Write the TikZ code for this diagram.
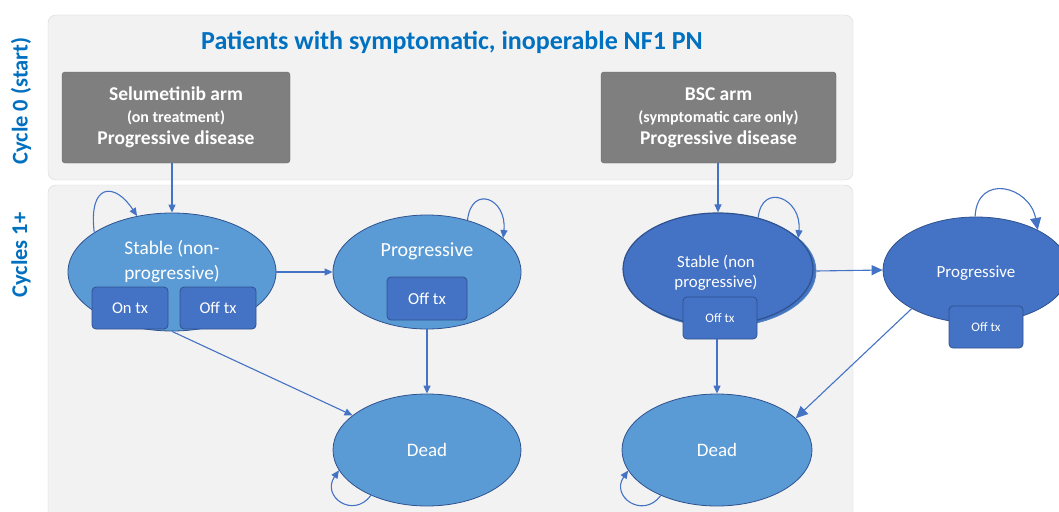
\documentclass[tikz,border=0pt]{standalone}
\usepackage{fontspec}
\setmainfont{Carlito}
\usetikzlibrary{arrows.meta,shapes.geometric}

\definecolor{bluetxt}{HTML}{0070C0}
\definecolor{lightell}{HTML}{5B9BD5}
\definecolor{darkell}{HTML}{4472C4}
\definecolor{ellline}{HTML}{2F528F}
\definecolor{panelfill}{HTML}{F2F2F2}
\definecolor{panelline}{HTML}{DADADA}
\definecolor{armfill}{HTML}{7F7F7F}

\begin{document}
\begin{tikzpicture}[x=1pt,y=-1pt]
        \clip (0,0) rectangle (1059,511);
        \fill[white] (0,0) rectangle (1059,511);

        % panels
        \begin{scope}[every path/.style={fill=panelfill,draw=panelline,rounded corners=8pt}]
            \path (48,15) rectangle (853,180);
            \path (48,185) rectangle (853,530);
        \end{scope}

        \begin{scope}[every node/.style={text=bluetxt,font=\fontsize{22.5}{24}\selectfont\bfseries,rotate=90}]
            \node (C0) at (21,101) {Cycle 0 (start)};
            \node (C1) at (21,255) {Cycles 1+};
        \end{scope}
        \node[text=bluetxt,font=\fontsize{26}{28}\selectfont\bfseries] (T) at (452,42)
            {Patients with symptomatic, inoperable NF1 PN};

        % arms
        \begin{scope}[every node/.style={fill=armfill,draw=armfill!80!black,rounded corners=3pt,
                      text=white,align=center,minimum height=91pt,inner sep=0pt,
                      font=\fontsize{19.5}{22}\selectfont\bfseries}]
            \node[minimum width=228pt] (A) at (176,117.5)
                {Selumetinib arm\\[0pt]{\fontsize{16}{18}\selectfont (on treatment)}\\Progressive disease};
            \node[minimum width=235pt] (B) at (718.5,117.5)
                {BSC arm\\[0pt]{\fontsize{16}{18}\selectfont (symptomatic care only)}\\Progressive disease};
        \end{scope}

        % health states
        \begin{scope}[every node/.style={ellipse,inner sep=0pt,draw=ellline,thick}]
            \node[fill=lightell,minimum width=208pt,minimum height=118pt] (S1) at (172,272) {};
            \node[fill=lightell,minimum width=188pt,minimum height=114pt] (P1) at (427,272) {};
            \node[fill=lightell,minimum width=188pt,minimum height=112pt] (D1) at (427,450) {};
            \node[fill=darkell,draw=lightell!70!ellline,minimum width=190pt,minimum height=112pt] (S2b) at (721,271) {};
            \node[fill=darkell,minimum width=190pt,minimum height=112pt,very thick] (S2) at (718,269) {};
            \node[fill=darkell,minimum width=186pt,minimum height=106pt] (P2) at (976,270) {};
            \node[fill=lightell,minimum width=190pt,minimum height=112pt] (D2) at (717,450) {};
        \end{scope}

        \begin{scope}[every node/.style={text=white,align=center,inner sep=0pt}]
            \node[font=\fontsize{19.3}{25}\selectfont] (S1t) at (172,262) {Stable (non-\\progressive)};
            \node[font=\fontsize{20}{22}\selectfont] (P1t) at (427,251) {Progressive};
            \node[font=\fontsize{19}{21}\selectfont] (D1t) at (427,450) {Dead};
            \node[font=\fontsize{16.8}{19.5}\selectfont] (S2t) at (716,273) {Stable (non\\progressive)};
            \node[font=\fontsize{17}{19}\selectfont] (P2t) at (976,273) {Progressive};
            \node[font=\fontsize{19}{21}\selectfont] (D2t) at (717,450) {Dead};
        \end{scope}

        % treatment boxes
        \begin{scope}[every node/.style={fill=darkell,draw=ellline,thick,rounded corners=4pt,
                      text=white,inner sep=0pt}]
            \node[minimum width=76pt,minimum height=42pt,font=\fontsize{16.5}{18}\selectfont] (S1on) at (130,308) {On tx};
            \node[minimum width=76pt,minimum height=42pt,font=\fontsize{16.5}{18}\selectfont] (S1off) at (218,308) {Off tx};
            \node[minimum width=80pt,minimum height=43pt,font=\fontsize{16.8}{18}\selectfont] (P1off) at (427,298.5) {Off tx};
            \node[minimum width=74pt,minimum height=42pt,font=\fontsize{13}{15}\selectfont] (S2off) at (720,318) {Off tx};
            \node[minimum width=74pt,minimum height=42pt,font=\fontsize{13}{15}\selectfont] (P2off) at (986,327) {Off tx};
        \end{scope}

        % transitions
        \begin{scope}[>={Triangle[length=8pt,width=7pt]},
                    every edge/.style={draw=darkell,line width=1.1pt}]
            \path [->] (A.south -| S1.north) edge (S1.north);
            \path [->] (B.south -| S2.north) edge (S2.north);
            \path [->] (S1.east) edge (P1.west);
            \path [->] (P1.south) edge (D1.north);
            \path [->] (S1.south) edge (D1);
            \path [->] (S2off.south -| D2.north) edge (D2.north);
            \path [->, >={Triangle[length=11pt,width=10pt]}] (S2b.east) edge (P2.west);
            \path [->, >={Triangle[length=12pt,width=11pt]}] (P2.211) edge (D2.22);
            % self loops
            \path [->] (S1.153) edge [to path={.. controls +(-6,-50) and +(-22,-34) .. (\tikztotarget)}] (S1.122);
            \path [->] (P1.52) edge [to path={.. controls +(4,-36) and +(4,-40) .. (\tikztotarget)}] (P1.24);
            \path [->] (D1.219) edge [to path={.. controls +(-18,24) and +(-18,26) .. (\tikztotarget)}] (D1.193);
            \path [->] (S2.52) edge [to path={.. controls +(4,-36) and +(4,-40) .. (\tikztotarget)}] (S2.21);
            \path [->, >={Triangle[length=12pt,width=11pt]}] (P2.91) edge [to path={.. controls +(2,-44) and +(-8,-44) .. (\tikztotarget)}] (P2.33);
            \path [->] (D2.219) edge [to path={.. controls +(-18,24) and +(-18,26) .. (\tikztotarget)}] (D2.193);
        \end{scope}
    \end{tikzpicture}
\end{document}
